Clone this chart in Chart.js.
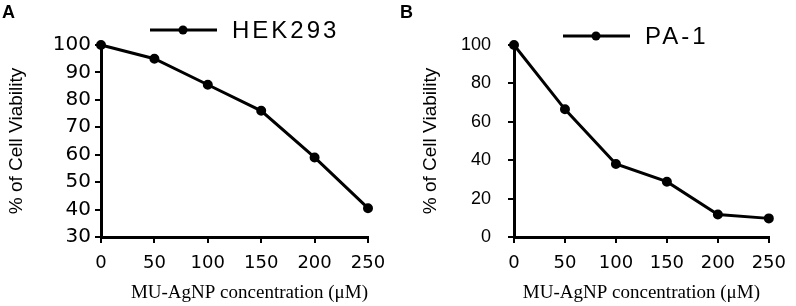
<!DOCTYPE html>
<html>
<head>
<meta charset="utf-8">
<script src="https://cdn.jsdelivr.net/npm/chart.js@4/dist/chart.umd.min.js"></script>
<style>
  body { margin: 0; background: #fff; }
  .panel { position: absolute; top: 0; width: 398px; height: 306px; }
  #panelA { left: 0; }
  #panelB { left: 398px; }
</style>
</head>
<body>
<div class="panel" id="panelA"><canvas id="chartA" width="398" height="306"></canvas></div>
<div class="panel" id="panelB"><canvas id="chartB" width="398" height="306"></canvas></div>
<script>
// concentrations (µM)
const doses = [0, 50, 100, 150, 200, 250];
// % cell viability
const hekViability = [100, 95, 85.5, 76, 59, 40.5];
const pa1Viability = [100, 66.5, 38, 28.8, 11.7, 9.7];

const xTitle = 'MU-AgNP concentration (\u03BCM)';
const yTitle = '% of Cell Viability';

// legend drawn as line + dot like the original, plus the panel letter
const lineLegend = {
    id: 'lineLegend',
    afterDraw(chart, args, opts) {
        const ctx = chart.ctx;
        const label = chart.data.datasets[0].label;
        ctx.save();
        ctx.strokeStyle = '#000';
        ctx.fillStyle = '#000';
        ctx.lineWidth = 3;
        ctx.beginPath();
        ctx.moveTo(opts.x, opts.y);
        ctx.lineTo(opts.x + 67, opts.y);
        ctx.stroke();
        ctx.beginPath();
        ctx.arc(opts.x + 33, opts.y, 4.5, 0, Math.PI * 2);
        ctx.fill();
        ctx.font = '24px "Liberation Sans", Arial, sans-serif';
        ctx.letterSpacing = '3px';
        ctx.textBaseline = 'middle';
        ctx.fillText(label, opts.x + 82, opts.y + 1);
        ctx.letterSpacing = '0px';
        ctx.font = 'bold 18px "Liberation Sans", Arial, sans-serif';
        ctx.textBaseline = 'alphabetic';
        ctx.fillText(opts.panel, 2, 18);
        ctx.restore();
    }
};

function makeChart(id, cfg) {
    const ctx = document.getElementById(id).getContext('2d');
    return new Chart(ctx, {
        type: 'line',
        data: {
            datasets: [{
                label: cfg.label,
                data: doses.map((d, i) => ({ x: d, y: cfg.values[i] })),
                borderColor: '#000',
                backgroundColor: '#000',
                borderWidth: 3,
                pointRadius: 4,
                pointBorderWidth: 2,
                pointBackgroundColor: '#000',
                pointBorderColor: '#000',
                tension: 0,
                clip: false
            }]
        },
        options: {
            responsive: false,
            animation: false,
            layout: { padding: { top: 45, right: cfg.padRight, bottom: 0, left: 0 } },
            plugins: {
                legend: { display: false },
                tooltip: { enabled: false },
                lineLegend: cfg.legend
            },
            scales: {
                x: {
                    type: 'linear',
                    min: 0,
                    max: 250,
                    afterFit: s => { s.height = 69; },
                    border: { display: true, color: '#000', width: 3 },
                    grid: { drawOnChartArea: false, drawTicks: true, tickLength: 6, color: '#000', lineWidth: 2 },
                    ticks: {
                        stepSize: 50,
                        color: '#000',
                        padding: 10,
                        font: { family: '"DejaVu Sans"', size: 18 }
                    },
                    title: {
                        display: true,
                        text: xTitle,
                        align: cfg.xTitleAlign,
                        color: '#000',
                        padding: { top: 0, bottom: 2 },
                        font: { family: '"Liberation Serif", "Times New Roman", serif', size: 19 }
                    }
                },
                y: {
                    min: cfg.yMin,
                    max: 100,
                    afterFit: s => { s.width = cfg.yWidth; },
                    border: { display: true, color: '#000', width: 3 },
                    grid: { drawOnChartArea: false, drawTicks: true, tickLength: 6, color: '#000', lineWidth: 2 },
                    ticks: {
                        stepSize: cfg.yStep,
                        color: '#000',
                        padding: cfg.yTickPad,
                        font: cfg.yTickFont
                    },
                    title: {
                        display: true,
                        text: yTitle,
                        color: '#000',
                        padding: { top: cfg.yTitlePad, bottom: 0 },
                        font: { family: '"Liberation Sans", Arial, sans-serif', size: 19 }
                    }
                }
            }
        },
        plugins: [lineLegend]
    });
}

makeChart('chartA', {
    label: 'HEK293',
    values: hekViability,
    yMin: 30,
    yStep: 10,
    yWidth: 101,
    yTickPad: 4,
    yTitlePad: 5,
    yTickFont: { family: '"DejaVu Sans"', size: 20 },
    padRight: 30,
    xTitleAlign: 'end',
    legend: { x: 150, y: 30, panel: 'A' }
});

makeChart('chartB', {
    label: 'PA-1',
    values: pa1Viability,
    yMin: 0,
    yStep: 20,
    yWidth: 116,
    yTickPad: 17,
    yTitlePad: 21,
    yTickFont: { family: '"Liberation Sans", Arial, sans-serif', size: 18 },
    padRight: 19,
    xTitleAlign: 'center',
    legend: { x: 165, y: 36, panel: 'B' }
});
</script>
</body>
</html>
